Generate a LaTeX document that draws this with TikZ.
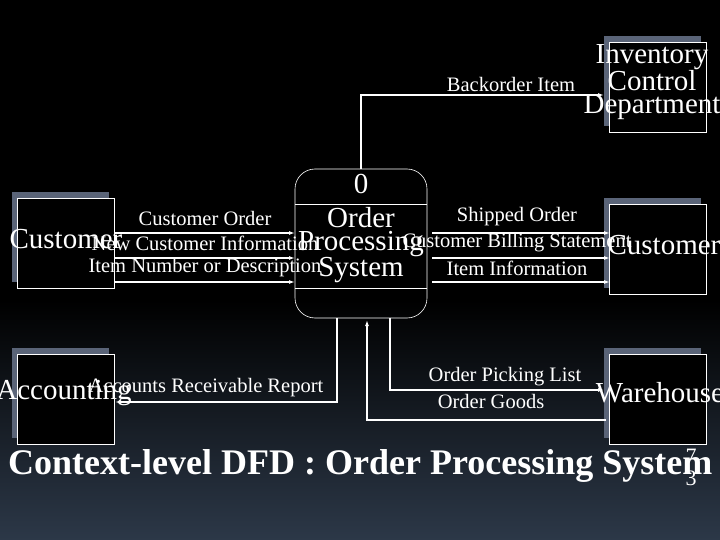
\documentclass[tikz,border=0pt]{standalone}
\usepackage{fontspec}
\setmainfont{Liberation Serif}
\begin{document}
\begin{tikzpicture}[x=1pt,y=-1pt,
 ent/.style={draw=white,fill=black,line width=0.8pt,minimum width=97pt,minimum height=90pt,inner sep=0pt},
 shd/.style={fill=shadowc,minimum width=97pt,minimum height=90pt,inner sep=0pt},
 big/.style={text=white,font=\fontsize{29}{23}\selectfont,align=center,inner sep=0pt},
 lbl/.style={text=white,font=\fontsize{20.5}{20}\selectfont,inner sep=0pt},
 flow/.style={draw=white,line width=1.2pt,-{Latex[length=6pt,width=4pt]}}]
\usetikzlibrary{arrows.meta}
\definecolor{shadowc}{HTML}{5A6478}
\definecolor{bgbot}{HTML}{2C3848}
\useasboundingbox (0,0) rectangle (720,540);
\clip (0,0) rectangle (720,540);
\fill[black] (0,0) rectangle (720,300);
\shade[top color=black,bottom color=bgbot] (0,300) rectangle (720,540);
% process
\draw[white,line width=0.6pt,rounded corners=20pt] (295,169) rectangle (427,318);
\coordinate (pt) at (361,169);
\draw[white,line width=0.6pt] (295,204) -- (427,204) (295,288) -- (427,288);
\node[big] (zero) at (361,184) {0};
\node[big] (proc) at (361,245) {Order\\Processing\\System};
% entities
\node[shd] at (60,237) {}; \node[ent] (cl) at (66,243) {};
\node[shd] at (60,393) {}; \node[ent] (ac) at (66,399) {};
\node[shd] at (652,81) {}; \node[ent] (inv) at (658,87) {};
\node[shd] at (652,243) {}; \node[ent] (cr) at (658,249) {};
\node[shd] at (652,393) {}; \node[ent] (wh) at (658,399) {};
% flows left
\foreach \y in {233,258,282} \draw[flow] (115,\y) -- (295,\y);
\node[lbl] at (205,218) {Customer Order};
\node[lbl] at (205,243) {New Customer Information};
\node[lbl] at (205,268) {Item Number or Description};
% flows right
\foreach \y in {233,258,282} \draw[flow] (432,\y) -- (610,\y);
\node[lbl] at (517,217) {Shipped Order};
\node[lbl] at (517,243) {Customer Billing Statement};
\node[lbl] at (517,268) {Item Information};
% backorder
\draw[flow] (pt) -- (361,95) -- (604,95);
\node[lbl] at (511,84) {Backorder Item};
% accounting
\draw[flow] (337,318) -- (337,402) -- (115,402);
\node[lbl] at (206,388) {Accounts Receivable Report};
% warehouse
\draw[flow] (390,318) -- (390,390) -- (604,390);
\draw[flow] (606,420) -- (367,420) -- (367,320);
\node[lbl] at (505,377) {Order Picking List};
\node[lbl] at (491,401) {Order Goods};
% entity texts
\node[big] at (66,239) {Customer};
\node[big] at (64,393) {Accounting};
\node[big] at (652,82) {Inventory\\Control\\Department};
\node[big] at (664,245) {Customer};
\node[big] at (660,393) {Warehouse};
% title
\node[text=white,font=\bfseries\fontsize{36}{36}\selectfont,anchor=west,inner sep=0pt] (title) at (8,466) {Context-level DFD : Order Processing System};
\node[text=white,font=\fontsize{22}{22}\selectfont,inner sep=0pt] at (691,456) {7};
\node[text=white,font=\fontsize{22}{22}\selectfont,inner sep=0pt] at (691,478) {3};
\end{tikzpicture}
\end{document}
